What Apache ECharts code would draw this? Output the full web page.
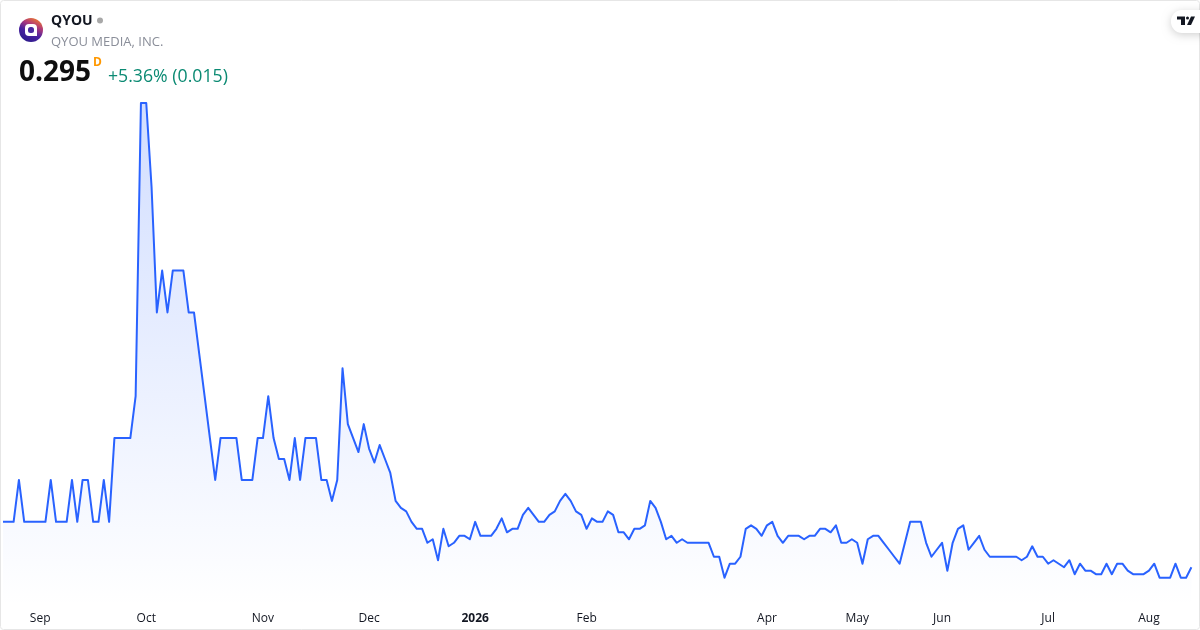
<!DOCTYPE html>
<html>
<head>
<meta charset="utf-8">
<style>html,body{margin:0;padding:0;background:#fff}#c{width:1200px;height:630px}</style>
<script src="https://cdn.jsdelivr.net/npm/echarts@6/dist/echarts.min.js"></script>
</head>
<body>
<div id="c"></div>
<script>
const prices = [
.36,.36,.36,.42,.36,.36,.36,.36,.36,.42,.36,.36,.36,.42,.36,.42,.42,.36,.36,.42,
.36,.48,.48,.48,.48,.54,.96,.96,.84,.66,.72,.66,.72,.72,.72,.66,.66,.60,.54,.48,
.42,.48,.48,.48,.48,.42,.42,.42,.48,.48,.54,.48,.45,.45,.42,.48,.42,.48,.48,.48,
.42,.42,.39,.42,.58,.50,.48,.46,.50,.465,.445,.47,.45,.43,.39,.38,.375,.36,.35,.35,
.33,.335,.305,.35,.325,.33,.34,.34,.335,.36,.34,.34,.34,.35,.365,.345,.35,.35,.37,.38,
.37,.36,.36,.37,.375,.39,.40,.39,.375,.37,.35,.365,.36,.36,.375,.37,.345,.345,.335,.35,
.35,.355,.39,.38,.36,.335,.34,.33,.335,.33,.33,.33,.33,.33,.31,.31,.28,.30,.30,.31,
.35,.355,.35,.34,.355,.36,.34,.33,.34,.34,.34,.335,.34,.34,.35,.35,.345,.355,.33,.33,
.335,.33,.30,.335,.34,.34,.33,.32,.31,.30,.33,.36,.36,.36,.33,.31,.32,.33,.29,.33,
.35,.355,.32,.33,.34,.32,.31,.31,.31,.31,.31,.31,.305,.31,.325,.31,.31,.30,.305,.30,
.295,.305,.285,.30,.29,.29,.285,.285,.30,.285,.30,.30,.29,.285,.285,.285,.29,.30,.28,.28,
.28,.30,.28,.28,.295
];
const tickLabels = ['Sep','Oct','Nov','Dec','2026','Feb','Apr','May','Jun','Jul','Aug'];
const tickIndexes = [7,27,49,69,89,110,144,161,177,197,216];
const categories = prices.map((_, i) => {
  const k = tickIndexes.indexOf(i);
  return k >= 0 ? tickLabels[k] : '';
});

const FONT = '"Open Sans","Noto Sans",sans-serif';
const chart = echarts.init(document.getElementById('c'), null, {renderer:'canvas', width:1200, height:630});
chart.setOption({
  animation:false,
  backgroundColor:'#fff',
  grid:{left:2.7,right:8.6,top:103,bottom:23,containLabel:false},
  xAxis:{
    type:'category',data:categories,boundaryGap:false,
    axisLine:{show:false},axisTick:{show:false},splitLine:{show:false},
    axisLabel:{
      interval:0,hideOverlap:false,margin:6,
      fontFamily:FONT,fontSize:12,color:'#131722',
      formatter:v => v==='2026' ? '{b|2026}' : v,
      rich:{b:{fontFamily:FONT,fontSize:12,fontWeight:700,color:'#131722'}}
    }
  },
  yAxis:{type:'value',show:false,min:.238,max:.96,splitLine:{show:false}},
  series:[{
    type:'line',data:prices,clip:false,symbol:'none',smooth:false,
    lineStyle:{color:'#2962FF',width:2,join:'round'},
    areaStyle:{color:new echarts.graphic.LinearGradient(0,0,0,1,[
      {offset:0,color:'rgba(41,98,255,0.3)'},
      {offset:1,color:'rgba(41,98,255,0)'}
    ])}
  }],
  graphic:[
    {type:'rect',silent:true,z:0,shape:{x:.5,y:.5,width:1199,height:629,r:3},
      style:{fill:'none',stroke:'#e6e6e6',lineWidth:1}},
    {type:'circle',shape:{cx:31,cy:30,r:12},
      style:{fill:new echarts.graphic.LinearGradient(0.75,0,0.25,1,[
        {offset:0,color:'#ee7a2f'},{offset:.3,color:'#b03a78'},{offset:.6,color:'#4a22a0'},{offset:1,color:'#2a1a8a'}])}},
    {type:'rect',shape:{x:25,y:24,width:12,height:12,r:4},style:{fill:'#fff'}},
    {type:'rect',shape:{x:33,y:32,width:4,height:4,r:0},style:{fill:'#fff'}},
    {type:'rect',shape:{x:28,y:27,width:6,height:6,r:2.5},style:{fill:'#4a2aa0'}},
    {type:'text',left:51,top:14,style:{text:'QYOU',font:'700 14px '+FONT,fill:'#131722'}},
    {type:'circle',shape:{cx:100,cy:20.5,r:3},style:{fill:'#a8a8a8'}},
    {type:'text',left:51,top:35.5,style:{text:'QYOU MEDIA, INC.',font:'400 13px '+FONT,fill:'#8a8e99'}},
    {type:'text',left:19,top:59.5,style:{text:'0.295',font:'700 28px '+FONT,fill:'#0f0f0f'}},
    {type:'text',left:93,top:57,style:{text:'D',font:'700 12px '+FONT,fill:'#ff9800'}},
    {type:'text',left:108,top:67.5,style:{text:'+5.36% (0.015)',font:'400 17.7px '+FONT,fill:'#0b8a73'}},
    {type:'rect',z:10,shape:{x:1171,y:10,width:44,height:23,r:11},
      style:{fill:'#fff',shadowBlur:8,shadowColor:'rgba(0,0,0,.18)',shadowOffsetY:2}},
    {type:'polygon',z:11,shape:{points:[[1177,16.5],[1185,16.5],[1185,25],[1181,25],[1181,19.5],[1177,19.5]]},style:{fill:'#131722'}},
    {type:'circle',z:11,shape:{cx:1187.5,cy:18,r:1.5},style:{fill:'#131722'}},
    {type:'polygon',z:11,shape:{points:[[1191,16.5],[1195,16.5],[1191,25],[1187,25]]},style:{fill:'#131722'}}
  ]
});
</script>
</body>
</html>
